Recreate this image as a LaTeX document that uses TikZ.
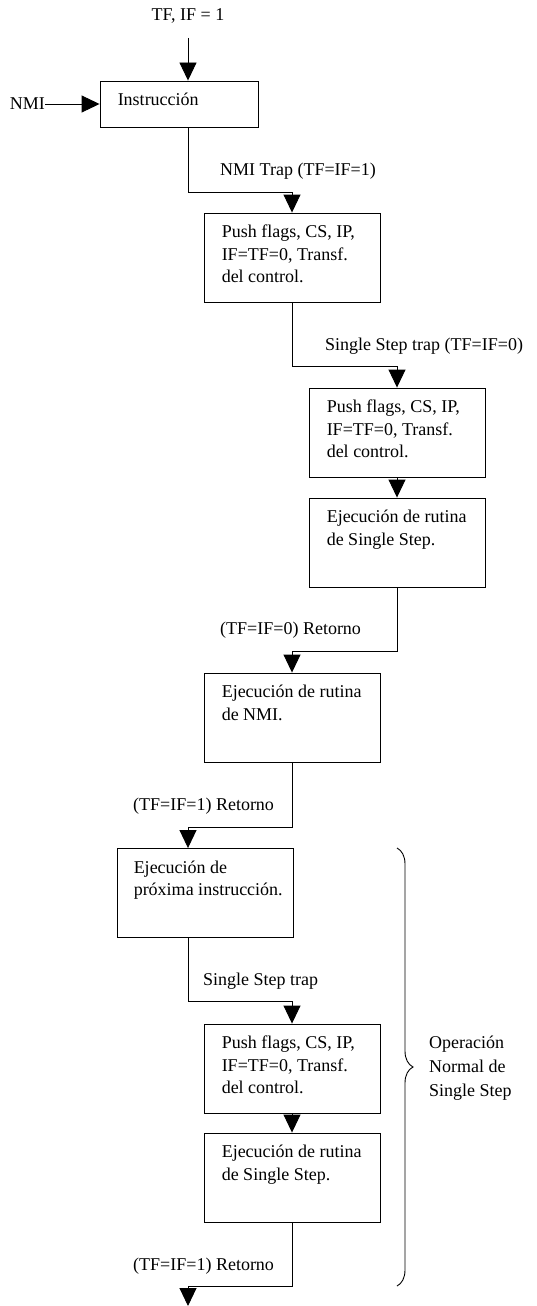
\documentclass[tikz,border=0pt]{standalone}
\usepackage{fontspec}
\setmainfont{Liberation Serif}
\usetikzlibrary{arrows.meta,decorations.pathreplacing,calc}
\begin{document}
\begin{tikzpicture}[x=1pt,y=-1pt,
  box/.style={draw, line width=0.9pt, inner sep=0pt, minimum width=176pt, minimum height=89pt},
  txt/.style={inner sep=0pt, anchor=north west, align=left, font=\fontsize{18}{22.5}\selectfont},
  lbl/.style={inner sep=0pt, anchor=base west, font=\fontsize{18}{22}\selectfont},
  arr/.style={-{Triangle[length=18pt,width=17pt]}, line width=0.9pt}]
\useasboundingbox (0,0) rectangle (536,1306);

% boxes
\node[box, minimum width=158pt, minimum height=46pt] (b1) at (179,104) {};
\node[box] (b2) at (292,257.5) {};
\node[box] (b3) at (397,432.5) {};
\node[box] (b4) at (397,542.5) {};
\node[box] (b5) at (292,717.5) {};
\node[box] (b6) at (205,893) {};
\node[box] (b7) at (292,1068.5) {};
\node[box] (b8) at (292,1177.5) {};

% box texts
\node[txt] (t1) at ($(b1.north west)+(18,12.5)$) {Instrucción};
\node[txt] (t2) at ($(b2.north west)+(18,12.5)$) {Push flags, CS, IP,\\IF=TF=0, Transf.\\del control.};
\node[txt] (t3) at ($(b3.north west)+(18,12.5)$) {Push flags, CS, IP,\\IF=TF=0, Transf.\\del control.};
\node[txt] (t4) at ($(b4.north west)+(18,12.5)$) {Ejecución de rutina\\de Single Step.};
\node[txt] (t5) at ($(b5.north west)+(18,12.5)$) {Ejecución de rutina\\de NMI.};
\node[txt] (t6) at ($(b6.north west)+(17,12.5)$) {Ejecución de\\próxima instrucción.};
\node[txt] (t7) at ($(b7.north west)+(18,12.5)$) {Push flags, CS, IP,\\IF=TF=0, Transf.\\del control.};
\node[txt] (t8) at ($(b8.north west)+(18,12.5)$) {Ejecución de rutina\\de Single Step.};

% free texts
\node[inner sep=0pt, anchor=base, font=\fontsize{18}{22}\selectfont] (top) at (188,21) {TF, IF = 1};
\node[inner sep=0pt, anchor=base east, font=\fontsize{18}{22}\selectfont] (nmi) at (45,109) {NMI};
\node[lbl] (l1) at (220,175) {NMI Trap (TF=IF=1)};
\node[lbl] (l2) at (325,350) {Single Step trap (TF=IF=0)};
\node[lbl] (l3) at (220,634) {(TF=IF=0) Retorno};
\node[lbl] (l4) at (133,810) {(TF=IF=1) Retorno};
\node[lbl] (l5) at (203,985) {Single Step trap};
\node[lbl] (l6) at (133,1270) {(TF=IF=1) Retorno};
\node[txt, font=\fontsize{18}{24}\selectfont] (op) at (429,1036) {Operación\\Normal de\\Single Step};

% connectors
\coordinate (c0) at (188,38);
\coordinate (p1) at (188,192);
\coordinate (p2) at (292,366);
\coordinate (p3) at (397,651);
\coordinate (p4) at (292,827);
\coordinate (p5) at (188,1001);
\coordinate (p6) at (292,1286);
\coordinate (pend) at (188,1306);

\draw[arr] (c0) -- (c0 |- b1.north);
\draw[arr] (b1.west -| nmi.east) -- (b1.west);
\draw[arr] (p1 |- b1.south) -- (p1) -| (b2.north);
\draw[arr] (b2.south) -- (p2) -| (b3.north);
\draw[arr] (b3.south) -- (b4.north);
\draw[arr] (b4.south) -- (p3) -| (b5.north);
\draw[arr] (b5.south) -- (p4) -| (b6.north -| p1);
\draw[arr] (p5 |- b6.south) -- (p5) -| (b7.north);
\draw[arr] (b7.south) -- (b8.north);
\draw[arr] (b8.south) -- (p6) -| (pend);

% brace
\coordinate (br1) at (397,848);
\coordinate (br2) at (397,1286);
\draw[decorate, decoration={brace, amplitude=16pt}, line width=0.9pt] (br1) -- (br2);
\end{tikzpicture}
\end{document}
